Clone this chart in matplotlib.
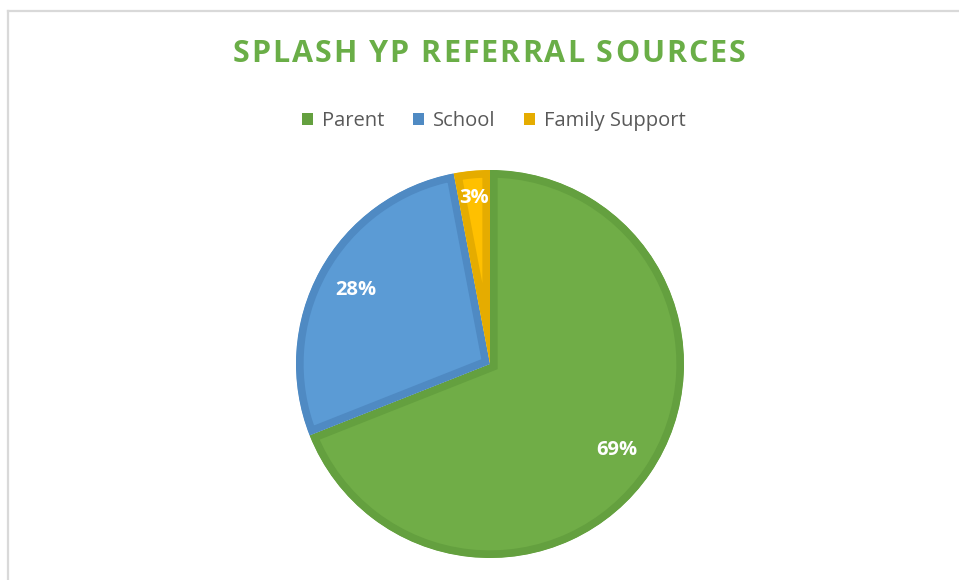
import matplotlib
matplotlib.use("Agg")
import matplotlib.pyplot as plt
import numpy as np
from matplotlib.lines import Line2D
from matplotlib.patches import Rectangle
from matplotlib.font_manager import FontProperties

categories = ["Parent", "School", "Family Support"]
values = [69, 28, 3]
title = "SPLASH YP REFERRAL SOURCES"

face_colors = ["#70AD47", "#5B9BD5", "#FFC000"]
edge_colors = ["#64A03F", "#4F8AC3", "#E5AC00"]

W, H = 959, 580
fig = plt.figure(figsize=(W / 100, H / 100), dpi=100)
fig.patch.set_facecolor("white")

cx, cy, r = 490, 364, 194
ax = fig.add_axes([(cx - r) / W, (H - cy - r) / H, 2 * r / W, 2 * r / H])

wedges, texts, autotexts = ax.pie(
    values, startangle=90, counterclock=False, radius=1,
    colors=face_colors, autopct="%1.0f%%", pctdistance=0.79,
    wedgeprops=dict(linewidth=11),
    textprops=dict(color="white", fontsize=14.5, fontweight="bold", family="Open Sans"),
)
for w, ec in zip(wedges, edge_colors):
    w.set_edgecolor(ec)
    w.set_clip_on(True)
    w.set_clip_path(w)  # stroke shows only inside the slice
dists = [0.79, 0.79, 0.86]
for w, t, d in zip(wedges, autotexts, dists):
    ang = np.deg2rad((w.theta1 + w.theta2) / 2)
    t.set_position((d * np.cos(ang), d * np.sin(ang)))
ax.set_xlim(-1, 1)
ax.set_ylim(-1, 1)
ax.set_aspect("equal")
ax.axis("off")

# Title with letter spacing
fp = FontProperties(family="Open Sans", weight="bold", size=22)
renderer = fig.canvas.get_renderer()


def tw(s):
    t = fig.text(0, 0, s, fontproperties=fp)
    bb = t.get_window_extent(renderer)
    t.remove()
    return bb.width


base = tw("HH")
adv = [tw("H" + title[:i] + "H") - base for i in range(len(title) + 1)]
target_w = 513.0
n = len(title)
sp = (target_w - adv[-1]) / (n - 1)
x0 = 489 - target_w / 2
for i, ch in enumerate(title):
    if ch == " ":
        continue
    fig.text((x0 + adv[i] + i * sp) / W, 1 - 54 / H, ch, ha="left", va="center",
             color="#6AAE47", fontproperties=fp)

handles = [Rectangle((0, 0), 1, 1, facecolor=c, edgecolor="none") for c in edge_colors]
leg = fig.legend(handles, categories, loc="center", bbox_to_anchor=(494 / W, 1 - 121 / H),
                 ncol=3, frameon=False, handlelength=0.55, handleheight=0.55,
                 handletextpad=0.45, columnspacing=1.42,
                 prop=dict(family="Open Sans", size=14.5))
for t in leg.get_texts():
    t.set_color("#595959")

fig.add_artist(Line2D([8 / W, 1], [1 - 11 / H, 1 - 11 / H], color="#D9D9D9", lw=1.6))
fig.add_artist(Line2D([8 / W, 8 / W], [0, 1 - 11 / H], color="#D9D9D9", lw=1.6))

fig.savefig("out.png", dpi=100, facecolor="white")
